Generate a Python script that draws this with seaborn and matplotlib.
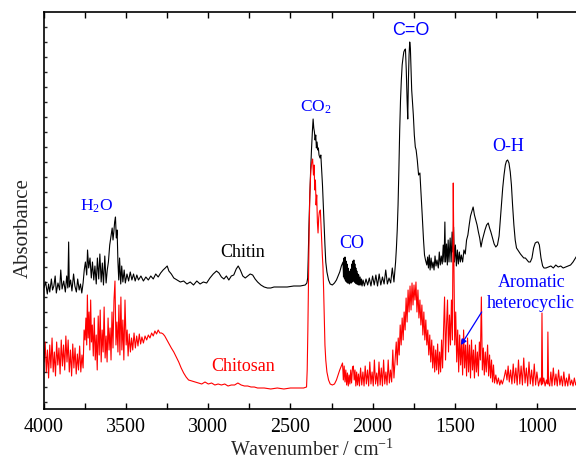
import matplotlib
matplotlib.use("Agg")
import matplotlib.pyplot as plt
import pandas as pd
import seaborn as sns
from matplotlib.ticker import MultipleLocator

# ---------------- data (arbitrary absorbance units) ----------------
chitin_wn = [
    4000, 3990, 3980, 3972, 3965, 3955, 3948, 3940, 3932, 3925,
    3915, 3905, 3898, 3890, 3880, 3870, 3862, 3855, 3850, 3846,
    3838, 3830, 3820, 3812, 3803, 3795, 3786, 3778, 3770, 3762,
    3755, 3748, 3740, 3735, 3728, 3720, 3712, 3705, 3697, 3690,
    3682, 3675, 3667, 3660, 3652, 3645, 3638, 3630, 3622, 3615,
    3608, 3600, 3592, 3585, 3580, 3575, 3570, 3565, 3560, 3555,
    3550, 3545, 3540, 3533, 3527, 3520, 3512, 3505, 3495, 3485,
    3475, 3465, 3455, 3445, 3435, 3425, 3410, 3395, 3380, 3365,
    3350, 3335, 3320, 3305, 3290, 3275, 3262, 3250, 3240, 3225,
    3210, 3190, 3170, 3150, 3130, 3110, 3090, 3070, 3050, 3030,
    3010, 2990, 2970, 2950, 2935, 2920, 2905, 2890, 2875, 2860,
    2845, 2830, 2818, 2805, 2790, 2775, 2760, 2745, 2730, 2715,
    2700, 2680, 2660, 2640, 2620, 2600, 2560, 2520, 2480, 2440,
    2410, 2400, 2395, 2392, 2388, 2383, 2378, 2372, 2366, 2362,
    2358, 2354, 2350, 2346, 2342, 2338, 2334, 2330, 2326, 2320,
    2315, 2310, 2305, 2300, 2295, 2290, 2285, 2278, 2268, 2258,
    2245, 2232, 2220, 2210, 2200, 2190,
    2180, 2177, 2174, 2171, 2168, 2165, 2162, 2159, 2156, 2153,
    2150, 2147, 2144, 2141, 2138, 2135, 2132, 2129, 2126, 2123,
    2120, 2117, 2114, 2111, 2108, 2105, 2102, 2099, 2096, 2093,
    2090, 2087, 2084, 2080, 2076, 2072, 2068, 2064, 2058, 2050,
    2040, 2030, 2020, 2010, 2000, 1990, 1980, 1970, 1960, 1950,
    1940, 1930, 1920, 1910, 1900, 1890, 1880, 1870, 1865, 1860,
    1855, 1850, 1845, 1840, 1835, 1830, 1825, 1820, 1815, 1810,
    1805, 1800, 1795, 1790, 1786, 1782, 1778, 1774, 1770, 1766,
    1762, 1758, 1752, 1746, 1740, 1735, 1728, 1720, 1712, 1705,
    1698, 1690, 1684, 1678, 1670, 1665, 1660, 1655, 1650, 1644,
    1638, 1632, 1626, 1620, 1614, 1608, 1600, 1594, 1588, 1582,
    1576, 1570, 1565, 1560, 1556, 1550, 1545, 1540, 1535, 1528,
    1522, 1516, 1512, 1507, 1502, 1496, 1490, 1484, 1478, 1472,
    1466, 1460, 1452, 1444, 1436, 1428, 1420, 1412, 1404, 1388,
    1380, 1372, 1364, 1356, 1348, 1340, 1332, 1324, 1316, 1306,
    1296, 1288, 1280, 1270, 1260, 1250, 1240, 1230, 1222, 1215,
    1208, 1200, 1192, 1185, 1178, 1170, 1162, 1155, 1148, 1140,
    1132, 1124, 1116, 1108, 1100, 1090, 1080, 1070, 1060, 1050,
    1040, 1030, 1020, 1010, 1000, 993, 985, 975, 965, 957,
    945, 930, 915, 900, 885, 870, 855, 840, 825, 810,
    795, 780, 765, 750,
]
chitin_abs = [
    114, 120, 108, 118, 110, 123, 112, 116, 126, 109,
    119, 112, 132, 113, 121, 110, 126, 114, 160, 115,
    122, 111, 128, 116, 110, 123, 112, 118, 109, 119,
    132, 140, 127, 152, 134, 144, 124, 140, 122, 136,
    118, 144, 123, 148, 120, 139, 117, 146, 119, 132,
    140, 157, 166, 174, 162, 170, 180, 185, 164, 172,
    140, 122, 144, 118, 136, 120, 132, 119, 128, 121,
    130, 122, 128, 121, 127, 122, 126, 121, 125, 122,
    126, 123, 128, 125, 129, 132, 134, 136, 131, 128,
    124, 122, 120, 121, 118, 120, 117, 121, 118, 120,
    119, 124, 128, 131, 129, 125, 123, 126, 122, 126,
    127, 133, 136, 132, 126, 124, 126, 128, 127, 123,
    120, 117, 115, 114, 114, 115, 115, 115, 116, 116,
    117, 119, 124, 142, 172, 202, 227, 252, 272, 283,
    274, 270, 262, 267, 254, 260, 252, 254, 247, 244,
    247, 232, 217, 197, 177, 157, 140, 130, 122, 118,
    117, 119, 122, 126, 130, 136,
    140, 125, 144, 123, 145, 121, 141, 120, 138, 119,
    134, 119, 131, 118, 129, 119, 133, 119, 138, 120,
    141, 121, 142, 120, 138, 119, 134, 118, 131, 118,
    128, 117, 127, 117, 125, 117, 123, 116, 122, 116,
    123, 117, 124, 116, 126, 117, 127, 116, 128, 117,
    125, 118, 132, 118, 124, 119, 134, 120, 130, 140,
    154, 172, 197, 232, 272, 302, 322, 337, 344, 350,
    352, 353, 332, 302, 283, 322, 347, 360, 354, 332,
    312, 302, 287, 267, 255, 252, 242, 227, 229, 207,
    187, 162, 147, 142, 137, 145, 134, 147, 132, 144,
    134, 140, 132, 146, 136, 142, 134, 150, 137, 146,
    138, 157, 140, 180, 140, 158, 137, 162, 140, 164,
    140, 170, 150, 175, 140, 157, 136, 152, 138, 150,
    140, 147, 140, 152, 148, 162, 167, 177, 186, 195,
    187, 182, 177, 170, 164, 155, 162, 167, 172, 177,
    179, 174, 170, 164, 158, 155, 157, 166, 184, 199,
    214, 227, 237, 241, 242, 239, 230, 217, 197, 177,
    162, 154, 152, 150, 148, 146, 144, 144, 142, 140,
    140, 144, 154, 159, 160, 160, 157, 144, 136, 134,
    134, 135, 136, 134, 137, 135, 136, 134, 135, 136,
    137, 140, 144, 148,
]

chitosan_wn = [
    4000, 3993, 3986, 3979, 3972, 3965, 3958, 3951, 3944, 3937,
    3930, 3923, 3916, 3909, 3902, 3895, 3888, 3881, 3874, 3867,
    3860, 3853, 3846, 3839, 3832, 3825, 3818, 3811, 3804, 3797,
    3790, 3783, 3776, 3769, 3762, 3756, 3750, 3745, 3740, 3736,
    3731, 3726, 3721, 3716, 3711, 3706, 3700, 3694, 3688, 3682,
    3676, 3670, 3664, 3658, 3652, 3646, 3640, 3634, 3628, 3622,
    3616, 3610, 3604, 3598, 3592, 3586, 3580, 3574, 3568, 3562,
    3556, 3550, 3544, 3538, 3532, 3526, 3520, 3514, 3507, 3500,
    3494, 3488, 3481, 3474, 3467, 3460, 3452, 3444, 3436, 3428,
    3420, 3412, 3404, 3395, 3385, 3375, 3365, 3355, 3345, 3335,
    3325, 3315, 3305, 3295, 3285, 3275, 3265, 3255, 3245, 3235,
    3225, 3210, 3195, 3180, 3165, 3150, 3135, 3120, 3100, 3080,
    3060, 3040, 3020, 3000, 2980, 2960, 2940, 2920, 2900, 2880,
    2860, 2840, 2820, 2800, 2780, 2760, 2740, 2720, 2700, 2660,
    2620, 2580, 2540, 2500, 2460, 2420, 2402, 2398, 2394, 2390,
    2386, 2382, 2376, 2370, 2365, 2360, 2356, 2352, 2348, 2344,
    2340, 2336, 2332, 2328, 2324, 2318, 2314, 2310, 2306, 2302,
    2298, 2294, 2290, 2285, 2278, 2268, 2258, 2245, 2232, 2220,
    2210, 2200, 2190, 2183, 2178, 2173, 2168, 2163, 2158, 2153,
    2148, 2143, 2138, 2133, 2128, 2122, 2117, 2112, 2107, 2102,
    2097, 2092, 2086, 2080, 2073, 2066, 2059, 2052, 2045, 2038,
    2031, 2024, 2017, 2010, 2003, 1996, 1989, 1982, 1975, 1968,
    1961, 1954, 1947, 1940, 1933, 1926, 1919, 1912, 1905, 1898,
    1891, 1884, 1877, 1870, 1863, 1856, 1850, 1844, 1838, 1832,
    1826, 1820, 1814, 1808, 1802, 1796, 1790, 1784, 1778, 1772,
    1766, 1760, 1754, 1748, 1742, 1736, 1730, 1724, 1718, 1712,
    1706, 1700, 1694, 1688, 1682, 1676, 1670, 1664, 1658, 1652,
    1646, 1640, 1634, 1628, 1622, 1616, 1610, 1604, 1598, 1592,
    1586, 1580, 1574, 1568, 1562, 1556, 1550, 1544, 1538, 1532,
    1526, 1520, 1514, 1509, 1505, 1500, 1494, 1488, 1482, 1476,
    1470, 1464, 1458, 1452, 1446, 1440, 1434, 1428, 1422, 1416,
    1410, 1404, 1398, 1392, 1386, 1380, 1374, 1368, 1362, 1356,
    1350, 1344, 1338, 1332, 1326, 1320, 1314, 1308, 1300, 1294,
    1288, 1282, 1276, 1270, 1264, 1258, 1250, 1242, 1234, 1226,
    1218, 1210, 1200, 1190, 1182, 1175, 1168, 1160, 1152, 1144,
    1136, 1128, 1120, 1112, 1104, 1096, 1088, 1080, 1072, 1064,
    1056, 1048, 1040, 1032, 1024, 1016, 1008, 1000, 990, 980,
    972, 969, 965, 958, 950, 942, 936, 933, 929, 922,
    915, 908, 900, 892, 884, 876, 868, 860, 852, 844,
    836, 828, 820, 812, 804, 796, 788, 780, 772, 764,
    755,
]
chitosan_abs = [
    40, 60, 30, 52, 24, 57, 34, 64, 30, 50,
    26, 60, 37, 54, 28, 62, 36, 57, 32, 66,
    40, 62, 30, 52, 26, 58, 34, 54, 28, 48,
    32, 56, 30, 47, 34, 72, 62, 84, 57, 107,
    64, 90, 52, 102, 60, 77, 46, 84, 42, 67,
    32, 86, 47, 92, 40, 72, 50, 95, 44, 66,
    40, 84, 52, 74, 42, 90, 54, 102, 121, 57,
    80, 50, 97, 47, 105, 52, 82, 42, 102, 57,
    72, 46, 68, 50, 64, 52, 69, 54, 66, 56,
    68, 58, 65, 59, 66, 62, 67, 64, 69, 66,
    71, 68, 72, 69, 69, 68, 66, 63, 60, 57,
    54, 50, 45, 40, 34, 29, 25, 22, 21, 20,
    19, 18, 20, 18, 19, 17, 18, 17, 18, 16,
    17, 17, 19, 17, 16, 16, 15, 15, 14, 14,
    13, 14, 13, 14, 14, 14, 15, 32, 72, 122,
    172, 207, 232, 240, 243, 227, 237, 212, 222, 197,
    207, 180, 169, 184, 190, 192, 177, 162, 147, 135,
    112, 82, 57, 42, 30, 22, 18, 17, 18, 22,
    27, 32, 36, 39, 22, 36, 20, 32, 17, 29,
    16, 27, 18, 32, 19, 35, 36, 22, 32, 16,
    30, 17, 28, 16, 34, 17, 30, 16, 36, 18,
    32, 16, 40, 18, 30, 16, 42, 18, 29, 16,
    40, 17, 34, 16, 42, 18, 30, 17, 42, 19,
    32, 20, 52, 24, 42, 60, 37, 64, 47, 77,
    57, 84, 62, 90, 72, 104, 80, 112, 90, 116,
    92, 119, 97, 117, 102, 120, 90, 112, 84, 102,
    77, 97, 67, 90, 62, 82, 57, 72, 47, 67,
    40, 62, 34, 56, 30, 52, 32, 58, 28, 50,
    30, 62, 34, 72, 105, 42, 77, 102, 50, 87,
    57, 102, 62, 219, 139, 57, 90, 40, 72, 30,
    67, 37, 62, 27, 72, 34, 57, 26, 64, 30,
    57, 24, 62, 32, 52, 24, 57, 30, 50, 26,
    60, 42, 105, 32, 54, 27, 50, 30, 57, 26,
    47, 24, 42, 20, 37, 19, 27, 18, 24, 17,
    22, 18, 24, 32, 22, 36, 20, 32, 18, 38,
    19, 34, 17, 42, 18, 36, 17, 44, 19, 34,
    16, 40, 18, 32, 16, 38, 17, 30, 16, 24,
    17, 89, 18, 24, 16, 22, 18, 70, 19, 16,
    30, 16, 34, 17, 28, 16, 32, 17, 26, 16,
    30, 16, 24, 16, 28, 17, 22, 16, 24, 17,
    22,
]

x_ticks = [4000, 3500, 3000, 2500, 2000, 1500, 1000]
x_tick_labels = ["4000", "3500", "3000", "2500", "2000", "1500", "1000"]

# ---------------- style ----------------
sns.set_theme(style="ticks")
plt.rcParams["font.family"] = ["Liberation Serif", "DejaVu Serif"]
plt.rcParams["mathtext.fontset"] = "custom"
plt.rcParams["mathtext.rm"] = "Liberation Serif"
plt.rcParams["mathtext.it"] = "Liberation Serif:italic"
plt.rcParams["mathtext.default"] = "regular"

fig = plt.figure(figsize=(5.76, 4.63), dpi=100)
ax = fig.add_axes([44 / 576, (463 - 408.5) / 463, (579.6 - 44) / 576, (408.5 - 12.3) / 463])

df_chitin = pd.DataFrame({"wn": chitin_wn, "A": chitin_abs})
df_chitosan = pd.DataFrame({"wn": chitosan_wn, "A": chitosan_abs})

sns.lineplot(data=df_chitin, x="wn", y="A", color="black", lw=0.8,
             estimator=None, sort=False, ax=ax)
sns.lineplot(data=df_chitosan, x="wn", y="A", color="#ff0000", lw=0.8,
             estimator=None, sort=False, ax=ax)

ax.set_xlim(4000, 740)
ax.set_ylim(-6.5, 389.7)

ax.set_xticks(x_ticks)
ax.set_xticklabels(x_tick_labels)
ax.xaxis.set_minor_locator(MultipleLocator(250))
ax.yaxis.set_major_locator(MultipleLocator(15))

ax.tick_params(axis="x", which="both", direction="in", top=True, bottom=True,
               length=4, width=1, labelsize=14.4, pad=7, colors="black")
ax.tick_params(axis="y", which="both", direction="in", left=True, right=False,
               labelleft=False, length=2.5, width=1)

for s in ax.spines.values():
    s.set_linewidth(1.2)
    s.set_color("black")

ax.set_xlabel("Wavenumber / cm$^{-1}$", fontsize=14.4, labelpad=2)
ax.set_ylabel("Absorbance", fontsize=15)
ax.yaxis.set_label_coords(-0.0205, 0.4556)

# ---------------- annotations ----------------
blue = "#0000ff"
ax.text(3679, 191, "H$_2$O", color=blue, fontsize=12.5, ha="center", va="baseline")
ax.text(2345, 290, "CO$_2$", color=blue, fontsize=12.5, ha="center", va="baseline")
ax.text(2125, 154, "CO", color=blue, fontsize=13, ha="center", va="baseline")
ax.text(1766, 367, "C=O", color=blue, fontsize=13, ha="center", va="baseline",
        family=["Liberation Sans", "DejaVu Sans"])
ax.text(1176, 251, "O-H", color=blue, fontsize=13, ha="center", va="baseline")
ax.text(1030, 115, "Aromatic", color=blue, fontsize=13, ha="center", va="baseline")
ax.text(1036, 94, "heterocyclic", color=blue, fontsize=13, ha="center", va="baseline")
ax.text(2789, 145, "Chitin", color="black", fontsize=13, ha="center", va="baseline")
ax.text(2785, 31, "Chitosan", color="#ff0000", fontsize=13, ha="center", va="baseline")
ax.annotate("", xy=(1462, 57), xytext=(1336, 90),
            arrowprops=dict(arrowstyle="-|>", color=blue, lw=0.9, mutation_scale=8,
                            shrinkA=0, shrinkB=0))

fig.savefig("out.png", dpi=100)
